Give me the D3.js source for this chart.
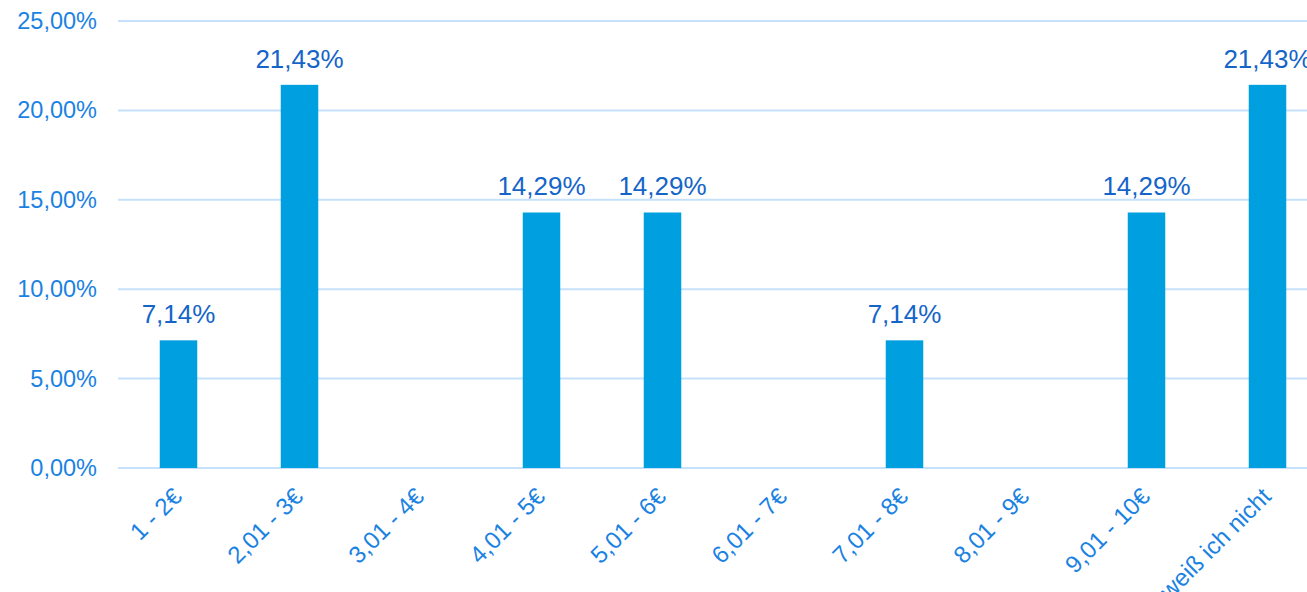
<!DOCTYPE html>
<html>
<head>
<meta charset="utf-8">
<script src="https://cdn.jsdelivr.net/npm/d3@7"></script>
<style>
  body { margin: 0; background: #fff; }
  text { font-family: "Liberation Sans", Arial, sans-serif; }
</style>
</head>
<body>
<div id="chart"></div>
<script>
// price ranges and their shares (percent)
const categories = ['1 - 2€', '2,01 - 3€', '3,01 - 4€', '4,01 - 5€', '5,01 - 6€',
	'6,01 - 7€', '7,01 - 8€', '8,01 - 9€', '9,01 - 10€', 'weiß ich nicht'];
const shares = [7.14, 21.43, 0, 14.29, 14.29, 0, 7.14, 0, 14.29, 21.43];
const yTicks = [0, 5, 10, 15, 20, 25];

const width = 1307, height = 592;
const margin = { top: 21, right: -21, bottom: 124, left: 118 };

const svg = d3.select('#chart').append('svg')
	.attr('width', width)
	.attr('height', height);

const x = d3.scaleBand()
	.domain(categories)
	.range([margin.left, width - margin.right])
	.paddingInner(0.69)
	.paddingOuter(0.345);

const y = d3.scaleLinear()
	.domain([0, 25])
	.range([height - margin.bottom, margin.top]);

const fmt = v => v.toFixed(2).replace('.', ',') + '%';

// gridlines
svg.append('g')
	.selectAll('line')
	.data(yTicks)
	.join('line')
	.attr('x1', margin.left)
	.attr('x2', width - margin.right)
	.attr('y1', d => y(d))
	.attr('y2', d => y(d))
	.attr('stroke', '#c6e1fb')
	.attr('stroke-width', 2);

// y axis labels
const yAxis = d3.axisLeft(y).tickValues(yTicks).tickFormat(fmt).tickSize(0).tickPadding(21);
svg.append('g')
	.attr('transform', 'translate(' + margin.left + ',0)')
	.call(yAxis)
	.call(g => g.select('.domain').remove())
	.selectAll('text')
	.attr('fill', '#1a82e2')
	.style('font-size', '23.5px');

// bars
svg.append('g')
	.selectAll('rect')
	.data(categories)
	.join('rect')
	.attr('x', d => x(d))
	.attr('width', x.bandwidth())
	.attr('y', (d, i) => y(shares[i]))
	.attr('height', (d, i) => y(0) - y(shares[i]))
	.attr('fill', '#009fe0');

// value labels
svg.append('g')
	.selectAll('text')
	.data(categories.filter((d, i) => shares[i] > 0))
	.join('text')
	.attr('x', d => x(d) + x.bandwidth() / 2)
	.attr('y', d => y(shares[categories.indexOf(d)]) - 17)
	.attr('text-anchor', 'middle')
	.attr('fill', '#1565c8')
	.style('font-size', '26px')
	.text(d => fmt(shares[categories.indexOf(d)]));

// x axis labels
const xAxis = d3.axisBottom(x).tickSize(0).tickPadding(0);
svg.append('g')
	.attr('transform', 'translate(0,' + y(0) + ')')
	.call(xAxis)
	.call(g => g.select('.domain').remove())
	.selectAll('text')
	.attr('fill', '#1a82e2')
	.style('font-size', '24px')
	.attr('text-anchor', 'end')
	.attr('dy', '0')
	.attr('transform', 'translate(5,30) rotate(-45)');
</script>
</body>
</html>
